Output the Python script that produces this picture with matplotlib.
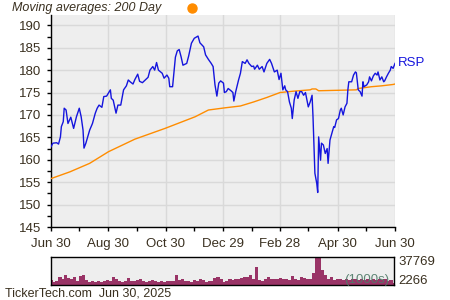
import numpy as np
import matplotlib
matplotlib.use('Agg')
import matplotlib.pyplot as plt
from matplotlib.lines import Line2D

plt.rcParams['font.family'] = ['Liberation Sans', 'DejaVu Sans']

# values, x = days since Jun 30 2024
price_days = [0, 2, 6, 8, 10, 11, 13, 14, 16, 18, 21, 24, 27, 30, 32, 34, 35, 37, 40, 41,
              44, 47, 49, 51, 54, 56, 59, 63, 64, 66, 69, 71, 74, 77, 80, 82, 84, 87, 89, 92, 94,
              97, 100, 103, 105, 108, 110, 112, 114, 118, 120, 123, 125, 126, 129, 132, 134, 136,
              138, 140, 144, 146, 149, 152, 156, 158, 162, 164, 167, 170, 172, 174, 176, 178, 180, 183,
              184, 186, 188, 191, 193, 194, 196, 199, 201, 203, 206, 208, 210, 213, 215, 216, 219,
              221, 224, 226, 229, 232, 234, 237, 240, 242, 244, 246, 248, 249, 251, 253, 255, 256,
              258, 260, 262, 264, 266, 268, 270,
              273, 275, 277, 278, 280, 282, 283, 284, 286, 287, 289, 291, 293, 294, 296, 298, 300,
              301, 303, 305, 307, 308, 310, 312, 314, 315, 316, 319, 321, 323, 324, 326, 328, 330,
              331, 332, 335, 337, 338, 340, 342, 344, 346, 347, 349, 351, 353, 354, 356, 358, 360,
              361, 363, 365]
price = [162.9, 163.7, 163.8, 163.5, 165.1, 167.4, 168.5, 171.5, 171.1, 168.1, 169.5, 167.0,
         169.6, 171.5, 169.6, 166.6, 162.6, 163.7, 165.9, 166.6, 168.1, 170.4, 171.5, 172.2,
         171.7, 174.1, 174.2, 175.6, 173.7, 173.3, 170.4, 172.2, 172.2, 175.6, 176.5, 177.8,
         177.4, 176.9, 177.9, 179.1, 177.5,
         177.2, 177.8, 178.4, 180.0, 180.8, 180.0, 181.7, 180.0, 179.3, 178.2, 178.9, 178.2,
         176.3, 176.3, 182.9, 184.3, 184.6, 183.0, 181.1, 181.5, 183.1, 186.0, 187.1, 187.6,
         186.1, 185.2, 183.4, 182.4, 181.5, 180.8, 176.7, 174.2, 177.1, 177.6, 177.1,
         175.0, 175.2, 175.9, 175.4, 175.0, 173.1, 175.2, 177.8, 179.3, 181.9, 181.5, 182.3,
         181.5, 180.8, 180.9, 180.2, 181.1, 180.2, 180.8, 179.6, 181.5, 182.4, 181.5, 179.6,
         180.0, 177.9, 179.3, 175.6, 176.5, 175.6, 175.2, 172.9, 171.5, 169.2, 173.3, 175.2,
         173.7, 175.2, 175.2, 174.4, 175.0,
         171.8, 172.9, 174.4, 169.6, 157.0, 154.7, 152.7, 165.1, 159.9, 163.7, 163.3, 161.4,
         162.5, 159.2, 164.4, 165.9, 167.4, 167.2, 168.9, 169.2, 171.1, 171.5, 170.0, 171.8,
         172.6, 175.6, 177.4, 177.4, 178.9, 179.6, 179.4, 175.6, 175.2, 174.2, 177.4, 176.3,
         176.7, 177.4, 178.5, 177.6, 178.7, 179.3, 178.9, 179.6, 177.8, 178.5, 177.4, 177.6,
         178.5, 179.3, 180.0, 180.8, 180.4, 181.5]

ma_days = [0, 20, 41, 61, 89, 121, 153, 167, 185, 201, 215, 229, 243, 257, 275, 277, 281, 284,
           324, 326, 340, 351, 363, 365]
ma200 = [155.8, 157.3, 159.2, 161.8, 164.6, 167.0, 169.6, 171.1, 171.6, 172.0, 172.9, 173.9,
         175.0, 175.3, 175.6, 175.8, 175.8, 175.4, 175.6, 175.9, 176.3, 176.5, 176.8, 176.9]

# volume in 1000s
volume = [6588, 4392, 5270, 10980, 8784, 14054, 9662, 8784, 10980, 5270, 12298, 14054, 6588,
          4392, 5270, 4392, 6149, 4392, 5270, 7027, 5270, 10980, 7906, 5270, 4392, 6149, 9662,
          6149, 6149, 6588, 8784, 5270, 4392, 5270, 6588, 5270, 4392, 6149, 4392, 5270,
          5270, 6149, 13176, 6588, 8784, 6149, 5270, 4392, 6588, 5270, 7906, 6588, 4392, 5270,
          6149, 9662, 10980, 8784, 4392, 5270, 8784, 6588, 8784, 8784, 9662, 10980, 10980, 14054,
          8784, 24156, 6588, 6149, 8784, 10980, 7906, 8784, 7906, 9662, 8784,
          8784, 6588, 12298, 7906, 6588, 10980, 9662, 7906, 8784, 16690, 36014, 37769, 19764,
          13176, 7906, 10980, 6588, 7906, 8784, 6588, 8784, 6588, 7906, 8784, 6588, 7906, 6588,
          8784, 6588, 7906, 6588, 8784, 6588, 7906, 5270, 6588, 3514]
vol_min, vol_max = 2266, 37769

x_ticks = [0, 61, 122, 182, 243, 304, 365]
x_labels = ['Jun 30', 'Aug 30', 'Oct 30', 'Dec 29', 'Feb 28', 'Apr 30', 'Jun 30']
y_ticks = list(range(145, 191, 5))

txt = '#3a3020'
bg = '#eeeeee'
grid = '#d9d9d9'

fig = plt.figure(figsize=(4.5, 3), dpi=100)

ax = fig.add_axes([51 / 450, 73 / 300, 344 / 450, 212 / 300])
ax.set_facecolor(bg)
ax.plot(ma_days, ma200, color='#ff8c00', lw=1.0, zorder=3)
ax.plot(price_days, price, color='#1515dd', lw=1.0, zorder=4)
ax.set_xlim(0, 365)
ax.set_ylim(145, 192.3)
ax.set_yticks(y_ticks)
ax.set_yticks(np.arange(147.5, 191, 5), minor=True)
ax.set_xticks(x_ticks)
ax.set_xticklabels(x_labels)
ax.set_xticks([30, 91, 152, 213, 273, 334], minor=True)
ax.grid(True, which='major', color=grid, lw=1.0, zorder=0)
ax.set_axisbelow(True)
for s in ['top', 'right']:
    ax.spines[s].set_visible(False)
for s in ['left', 'bottom']:
    ax.spines[s].set_color('black')
    ax.spines[s].set_linewidth(1.0)
ax.tick_params(which='both', length=3, width=1, color='black', labelsize=9.5,
               labelcolor=txt, pad=4)
ax.tick_params(axis='x', pad=5)
ax.text(1.008, (price[-1] - 145) / (192.3 - 145), 'RSP', transform=ax.transAxes,
        color='#1515dd', fontsize=9.5, va='center', ha='left')

fig.text(12 / 450, 1 - 8 / 300, 'Moving averages: 200 Day', fontsize=9, style='italic',
         color=txt, va='center', ha='left')
fig.add_artist(Line2D([192 / 450], [1 - 7.5 / 300], marker='o', markersize=6.5,
                      color='#ff8c00', transform=fig.transFigure))

vax = fig.add_axes([51 / 450, 14.7 / 300, 343 / 450, 28.6 / 300])
vax.set_facecolor(bg)
vx = np.linspace(0, 365, len(volume))
vax.bar(vx, volume, width=365 / len(volume) * 1.05, color='#993366', linewidth=0)
vax.set_xlim(0, 365)
vax.set_ylim(0, vol_max)
vax.set_xticks([])
vax.set_yticks([])
for s in vax.spines.values():
    s.set_color('black')
    s.set_linewidth(1.0)
vax.text(1.012, 0.8, f'{vol_max}', transform=vax.transAxes, fontsize=9.5, color=txt,
         va='center', ha='left')
vax.text(1.012, 0.14, f'{vol_min}', transform=vax.transAxes, fontsize=9.5, color=txt,
         va='center', ha='left')
vax.text(0.985, 0.17, '(1000s)', transform=vax.transAxes, fontsize=9.5, color='#4f7a68',
         va='center', ha='right', alpha=0.9)

fig.text(5 / 450, 1 - 294 / 300, 'TickerTech.com  Jun 30, 2025', fontsize=9, color=txt,
         va='center', ha='left')

fig.savefig('out.png', dpi=100)
